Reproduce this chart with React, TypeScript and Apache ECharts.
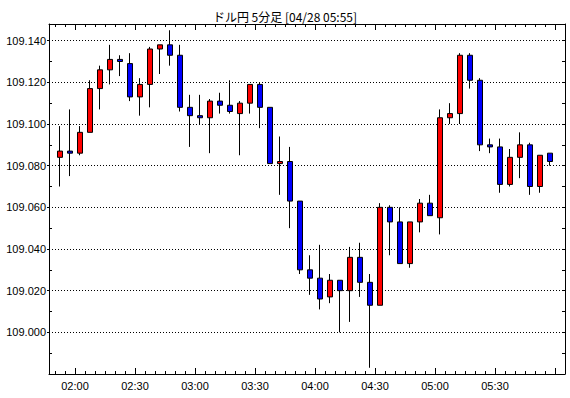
import React, { useEffect, useRef } from 'react';
import * as echarts from 'echarts';

const times = [
  '01:50', '01:55', '02:00', '02:05', '02:10', '02:15', '02:20', '02:25', '02:30', '02:35',
  '02:40', '02:45', '02:50', '02:55', '03:00', '03:05', '03:10', '03:15', '03:20', '03:25',
  '03:30', '03:35', '03:40', '03:45', '03:50', '03:55', '04:00', '04:05', '04:10', '04:15',
  '04:20', '04:25', '04:30', '04:35', '04:40', '04:45', '04:50', '04:55', '05:00', '05:05',
  '05:10', '05:15', '05:20', '05:25', '05:30', '05:35', '05:40', '05:45', '05:50', '05:55',
];

const opens = [
  109.084, 109.087, 109.086, 109.096, 109.117, 109.126, 109.131, 109.129, 109.113, 109.119,
  109.136, 109.138, 109.133, 109.108, 109.104, 109.103, 109.111, 109.109, 109.105, 109.110,
  109.119, 109.108, 109.081, 109.082, 109.063, 109.030, 109.026, 109.017, 109.025, 109.020,
  109.036, 109.024, 109.013, 109.060, 109.053, 109.033, 109.053, 109.062, 109.055, 109.103,
  109.105, 109.133, 109.121, 109.090, 109.089, 109.071, 109.084, 109.090, 109.070, 109.086,
];

const closes = [
  109.087, 109.086, 109.096, 109.117, 109.126, 109.131, 109.130, 109.113, 109.119, 109.136,
  109.138, 109.133, 109.108, 109.104, 109.103, 109.111, 109.109, 109.106, 109.110, 109.119,
  109.108, 109.081, 109.082, 109.063, 109.030, 109.026, 109.016, 109.025, 109.020, 109.036,
  109.024, 109.013, 109.060, 109.053, 109.033, 109.053, 109.062, 109.056, 109.103, 109.105,
  109.133, 109.121, 109.090, 109.089, 109.071, 109.084, 109.090, 109.070, 109.085, 109.082,
];

const lows = [
  109.070, 109.075, 109.085, 109.096, 109.107, 109.119, 109.123, 109.111, 109.104, 109.108,
  109.124, 109.128, 109.106, 109.089, 109.100, 109.086, 109.105, 109.105, 109.085, 109.105,
  109.098, 109.081, 109.066, 109.050, 109.028, 109.018, 109.011, 109.014, 109.000, 109.005,
  109.017, 108.983, 109.013, 109.037, 109.033, 109.031, 109.048, 109.056, 109.047, 109.100,
  109.100, 109.117, 109.087, 109.086, 109.067, 109.070, 109.074, 109.066, 109.067, 109.080,
];

const highs = [
  109.099, 109.107, 109.099, 109.121, 109.128, 109.138, 109.133, 109.134, 109.122, 109.137,
  109.138, 109.145, 109.138, 109.114, 109.114, 109.112, 109.115, 109.121, 109.111, 109.119,
  109.120, 109.108, 109.094, 109.089, 109.063, 109.037, 109.042, 109.028, 109.025, 109.041,
  109.043, 109.028, 109.062, 109.061, 109.060, 109.053, 109.064, 109.066, 109.107, 109.110,
  109.134, 109.134, 109.122, 109.093, 109.093, 109.088, 109.096, 109.091, 109.085, 109.086,
];

const yGridTicks = [109.0, 109.02, 109.04, 109.06, 109.08, 109.1, 109.12, 109.14];
const yHalfTicks = [108.99, 109.01, 109.03, 109.05, 109.07, 109.09, 109.11, 109.13];

const TITLE = 'ドル円 5分足 [04/28 05:55]';
const X_MIN = 107; // 01:47 in minutes
const X_MAX = 365; // 06:05
const Y_MIN = 108.98;
const Y_MAX = 109.148;
const SLOT = 5;

const toMin = (t: string) => {
  const [h, m] = t.split(':').map(Number);
  return h * 60 + m;
};
const fmtMin = (v: number) => {
  const h = Math.floor(v / 60);
  const m = Math.round(v - h * 60);
  return String(h).padStart(2, '0') + ':' + String(m).padStart(2, '0');
};

const FONT = '"Liberation Sans", Arial, sans-serif';

export default function App() {
  const ref = useRef<HTMLDivElement>(null);
  useEffect(() => {
    if (!ref.current) return;
    const chart = echarts.init(ref.current, null, { renderer: 'svg' });
    const slotStarts = times.map(toMin);
    const boundaries = slotStarts.concat([slotStarts[slotStarts.length - 1] + SLOT]);
    const majorTicks = boundaries.filter((v) => v % 30 === 0);
    const labelTicks = slotStarts.filter((v) => v % 30 === 0);
    const yAllTicks = yGridTicks.concat(yHalfTicks);
    const data = times.map((t, i) => [toMin(t) + SLOT / 2, opens[i], closes[i], lows[i], highs[i]]);
    const black = { color: '#000', width: 1 };

    const xBase = {
      type: 'value',
      min: X_MIN,
      max: X_MAX,
      splitLine: { show: false },
      axisLabel: { show: false },
    };
    chart.setOption({
      animation: false,
      backgroundColor: '#fff',
      title: {
        text: TITLE,
        left: 'center',
        top: 5,
        textStyle: {
          fontSize: 12,
          fontWeight: 'normal',
          color: '#000',
          fontFamily: '"Noto Sans CJK JP", sans-serif',
        },
      },
      grid: { left: 49, right: 5, top: 24, bottom: 24, containLabel: false },
      xAxis: [
        {
          ...xBase,
          position: 'bottom',
          axisLine: { show: true, onZero: false, lineStyle: black },
          axisTick: { show: true, inside: true, length: 3, customValues: boundaries, lineStyle: black },
        },
        {
          ...xBase,
          position: 'bottom',
          axisLine: { show: false, onZero: false },
          axisTick: { show: true, inside: true, length: 6, customValues: majorTicks, lineStyle: black },
          axisLabel: {
            show: true,
            customValues: labelTicks,
            formatter: (v: number) => fmtMin(v),
            color: '#000',
            fontSize: 11,
            fontFamily: FONT,
            margin: 6,
          },
        },
        {
          ...xBase,
          position: 'top',
          axisLine: { show: true, onZero: false, lineStyle: black },
          axisTick: { show: true, inside: true, length: 3, customValues: boundaries, lineStyle: black },
        },
        {
          ...xBase,
          position: 'top',
          axisLine: { show: false, onZero: false },
          axisTick: { show: true, inside: true, length: 6, customValues: majorTicks, lineStyle: black },
        },
      ],
      yAxis: [
        {
          type: 'value',
          position: 'left',
          min: Y_MIN,
          max: Y_MAX,
          interval: 0.02,
          axisLine: { show: true, onZero: false, lineStyle: black },
          axisTick: { show: true, inside: false, length: 2, lineStyle: black },
          axisLabel: {
            showMinLabel: false,
            showMaxLabel: false,
            formatter: (v: number) => v.toFixed(3),
            color: '#000',
            fontSize: 11,
            fontFamily: FONT,
            margin: 3,
          },
          splitLine: { show: true, lineStyle: { color: '#000', width: 1, type: [1, 2] } },
        },
        {
          type: 'value',
          position: 'left',
          min: Y_MIN,
          max: Y_MAX,
          axisLine: { show: false, onZero: false },
          axisTick: { show: true, inside: true, length: 3, customValues: yHalfTicks, lineStyle: black },
          axisLabel: { show: false },
          splitLine: { show: false },
        },
        {
          type: 'value',
          position: 'right',
          min: Y_MIN,
          max: Y_MAX,
          axisLine: { show: true, onZero: false, lineStyle: black },
          axisTick: { show: true, inside: true, length: 3, customValues: yAllTicks, lineStyle: black },
          axisLabel: { show: false },
          splitLine: { show: false },
        },
      ],
      series: [
        {
          type: 'candlestick',
          xAxisIndex: 0,
          yAxisIndex: 0,
          barWidth: 6,
          data,
          itemStyle: {
            color: '#ff0000',
            color0: '#0000ff',
            borderColor: '#000',
            borderColor0: '#000',
            borderWidth: 1,
          },
          emphasis: { disabled: true },
        },
      ],
    });
    return () => chart.dispose();
  }, []);
  return (
    <div
      ref={ref}
      style={{ position: 'fixed', left: 0, top: 0, width: 570, height: 398, background: '#fff' }}
    />
  );
}
